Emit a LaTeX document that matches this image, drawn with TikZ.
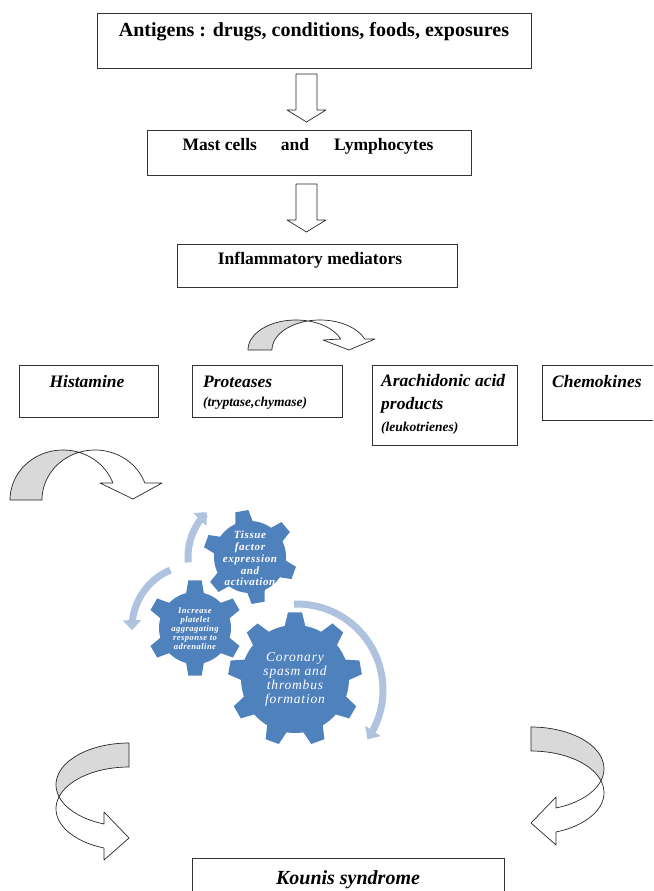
\documentclass[tikz,border=0pt]{standalone}
\usepackage{fontspec}
\setmainfont{Liberation Serif}
\usetikzlibrary{arrows.meta,calc}
\definecolor{gearblue}{HTML}{4F81BD}
\definecolor{arcblue}{HTML}{AFC2DE}
\definecolor{shadegray}{HTML}{D9D9D9}
\begin{document}
\begin{tikzpicture}[x=1pt,y=-1pt,
  box/.style={draw=black!80,line width=0.9pt,inner sep=0pt,anchor=north west},
  outline/.style={draw=black!85,line width=0.7pt,line join=round},
  boldtext/.style={font=\bfseries\fontsize{17.5}{21}\selectfont,inner sep=0pt},
  medtext/.style={font=\bfseries\itshape\fontsize{17.5}{23}\selectfont,inner sep=0pt,align=left},
  subtext/.style={font=\bfseries\itshape\fontsize{13.5}{16}\selectfont,inner sep=0pt},
  cogarrow/.style={draw=arcblue,line width=7pt,-{Triangle[width=18pt,length=10pt]}},
  geartext/.style={text=white,align=center,inner sep=0pt}
]
\useasboundingbox (0,0) rectangle (653,891);

% ---------- top boxes ----------
\node[box,minimum width=434pt,minimum height=55pt] (ant) at (97,13) {};
\node[boldtext,font=\bfseries\fontsize{20}{24}\selectfont] (antt) at (314,32) {Antigens : drugs, conditions, foods, exposures};

\node[box,minimum width=324pt,minimum height=45pt] (mast) at (147,130) {};
\node[boldtext] (mastt) at (308,146) {Mast cells\hspace{24pt}and\hspace{25pt}Lymphocytes};

\node[box,minimum width=280pt,minimum height=43pt] (infl) at (177,244) {};
\node[boldtext] (inflt) at (310,260) {Inflammatory mediators};

% ---------- straight block arrows ----------
\draw[outline,fill=white] (296,74) -- (317,74) -- (317,110) -- (326,110) -- (306.5,122) -- (287,110) -- (296,110) -- cycle;
\draw[outline,fill=white] (296,184) -- (317,184) -- (317,220) -- (326,220) -- (306.5,232) -- (287,220) -- (296,220) -- cycle;

% ---------- curved arrow above Proteases ----------
\fill[shadegray] plot[domain=180:284.5,samples=30] ({296+48*cos(\x)},{350+30*sin(\x)})
   -- plot[domain=255.5:180,samples=30] ({320+48*cos(\x)},{350+30*sin(\x)}) -- cycle;
\draw[outline] plot[domain=180:284.5,samples=30] ({296+48*cos(\x)},{350+30*sin(\x)})
   -- plot[domain=255.5:180,samples=30] ({320+48*cos(\x)},{350+30*sin(\x)}) -- cycle;
\draw[outline,fill=white] plot[domain=284.5:338.5,samples=30] ({296+48*cos(\x)},{350+30*sin(\x)})
   -- (323,340) -- (349,350) -- (375,339)
   -- plot[domain=338.5:255.5,samples=30] ({320+48*cos(\x)},{350+30*sin(\x)}) -- cycle;

% ---------- mediator boxes ----------
\node[box,minimum width=139pt,minimum height=52pt] (hist) at (19,365) {};
\node[medtext] (histt) at (87,382) {Histamine};

\node[box,minimum width=150pt,minimum height=52pt] (prot) at (192,365) {};
\node[medtext,anchor=west] (prott) at (203,382) {Proteases};
\node[subtext,anchor=west] (protsub) at (203,403) {(tryptase,chymase)};

\node[box,minimum width=145pt,minimum height=80pt] (arach) at (372,365) {};
\node[medtext,anchor=west] (aracht) at (381,393.5) {Arachidonic acid\\products};
\node[subtext,anchor=west] (arachsub) at (381,428) {(leukotrienes)};

\draw[draw=black!80,line width=0.9pt] (653,365) -- (542,365) -- (542,420) -- (653,420);
\node[medtext,anchor=west] (chemt) at (552,382) {Chemokines};

% ---------- curved arrow above gears ----------
\fill[shadegray] plot[domain=180:287.6,samples=30] ({63+53*cos(\x)},{500+50*sin(\x)})
   -- plot[domain=252.4:180,samples=30] ({95+53*cos(\x)},{500+50*sin(\x)}) -- cycle;
\draw[outline] plot[domain=180:287.6,samples=30] ({63+53*cos(\x)},{500+50*sin(\x)})
   -- plot[domain=252.4:180,samples=30] ({95+53*cos(\x)},{500+50*sin(\x)}) -- cycle;
\draw[outline,fill=white] plot[domain=287.6:340.1,samples=30] ({63+53*cos(\x)},{500+50*sin(\x)})
   -- (100,483) -- (133,499) -- (162,483)
   -- plot[domain=340.1:252.4,samples=30] ({95+53*cos(\x)},{500+50*sin(\x)}) -- cycle;

% ---------- cycle arrows ----------
\draw[cogarrow] plot[domain=175:226,samples=25] ({250+62*cos(\x)},{557+62*sin(\x)});
\draw[cogarrow] plot[domain=247:178,samples=25] ({195+63*cos(\x)},{628+63*sin(\x)});
\draw[cogarrow] plot[domain=268:395,samples=40] ({297+86*cos(\x)},{690+86*sin(\x)});

% ---------- gears ----------
\fill[gearblue] (295,679) circle[radius=54];
\foreach \a in {-90,-50,...,230}
  \fill[gearblue] ($(295,679)+(\a-11.5:53)$) -- ($(295,679)+(\a-6:67)$) -- ($(295,679)+(\a+6:67)$) -- ($(295,679)+(\a+11.5:53)$) -- cycle;

\fill[gearblue] (195,628) circle[radius=36];
\foreach \a in {-90,-30,...,210}
  \fill[gearblue] ($(195,628)+(\a-15:35)$) -- ($(195,628)+(\a-8:48)$) -- ($(195,628)+(\a+8:48)$) -- ($(195,628)+(\a+15:35)$) -- cycle;

\fill[gearblue] (250,557) circle[radius=36];
\foreach \a in {20,80,...,320}
  \fill[gearblue] ($(250,557)+(\a-15:35)$) -- ($(250,557)+(\a-8:47)$) -- ($(250,557)+(\a+8:47)$) -- ($(250,557)+(\a+15:35)$) -- cycle;

\node[geartext,font=\bfseries\itshape\fontsize{11}{11.75}\selectfont\addfontfeatures{LetterSpace=6}] (tissue) at (250,558.5) {Tissue\\factor\\expression\\and\\activation};
\node[geartext,font=\bfseries\itshape\fontsize{8.6}{9}\selectfont\addfontfeatures{LetterSpace=5}] (plate) at (195,629) {Increase\\platelet\\aggragating\\response to\\adrenaline};
\node[geartext,font=\itshape\fontsize{13.5}{14.3}\selectfont\addfontfeatures{LetterSpace=6}] (coron) at (295,679.5) {Coronary\\spasm and\\thrombus\\formation};

% ---------- bottom U-turn arrows ----------
\fill[shadegray] plot[domain=270:163.3,samples=30] ({129+73*cos(\x)},{784.75+41.75*sin(\x)})
   -- plot[domain=196.7:270,samples=30] ({129+73*cos(\x)},{808.75+41.75*sin(\x)}) -- cycle;
\draw[outline] plot[domain=270:163.3,samples=30] ({129+73*cos(\x)},{784.75+41.75*sin(\x)})
   -- plot[domain=196.7:270,samples=30] ({129+73*cos(\x)},{808.75+41.75*sin(\x)}) -- cycle;
\draw[outline,fill=white] plot[domain=163.3:110,samples=30] ({129+73*cos(\x)},{784.75+41.75*sin(\x)})
   -- (104,812) -- (129,838) -- (104,860)
   -- plot[domain=110:196.7,samples=30] ({129+73*cos(\x)},{808.75+41.75*sin(\x)}) -- cycle;

\fill[shadegray] plot[domain=270:376.7,samples=30] ({531+73*cos(\x)},{768.75+41.75*sin(\x)})
   -- plot[domain=343.3:270,samples=30] ({531+73*cos(\x)},{792.75+41.75*sin(\x)}) -- cycle;
\draw[outline] plot[domain=270:376.7,samples=30] ({531+73*cos(\x)},{768.75+41.75*sin(\x)})
   -- plot[domain=343.3:270,samples=30] ({531+73*cos(\x)},{792.75+41.75*sin(\x)}) -- cycle;
\draw[outline,fill=white] plot[domain=376.7:430,samples=30] ({531+73*cos(\x)},{768.75+41.75*sin(\x)})
   -- (556,797) -- (531,823) -- (556,845)
   -- plot[domain=430:343.3,samples=30] ({531+73*cos(\x)},{792.75+41.75*sin(\x)}) -- cycle;

% ---------- Kounis box ----------
\draw[draw=black!80,line width=0.9pt] (192,891) -- (192,858) -- (504,858) -- (504,891);
\node[font=\bfseries\itshape\fontsize{20}{24}\selectfont,inner sep=0pt] (kounis) at (348,880) {Kounis syndrome};
\end{tikzpicture}
\end{document}
